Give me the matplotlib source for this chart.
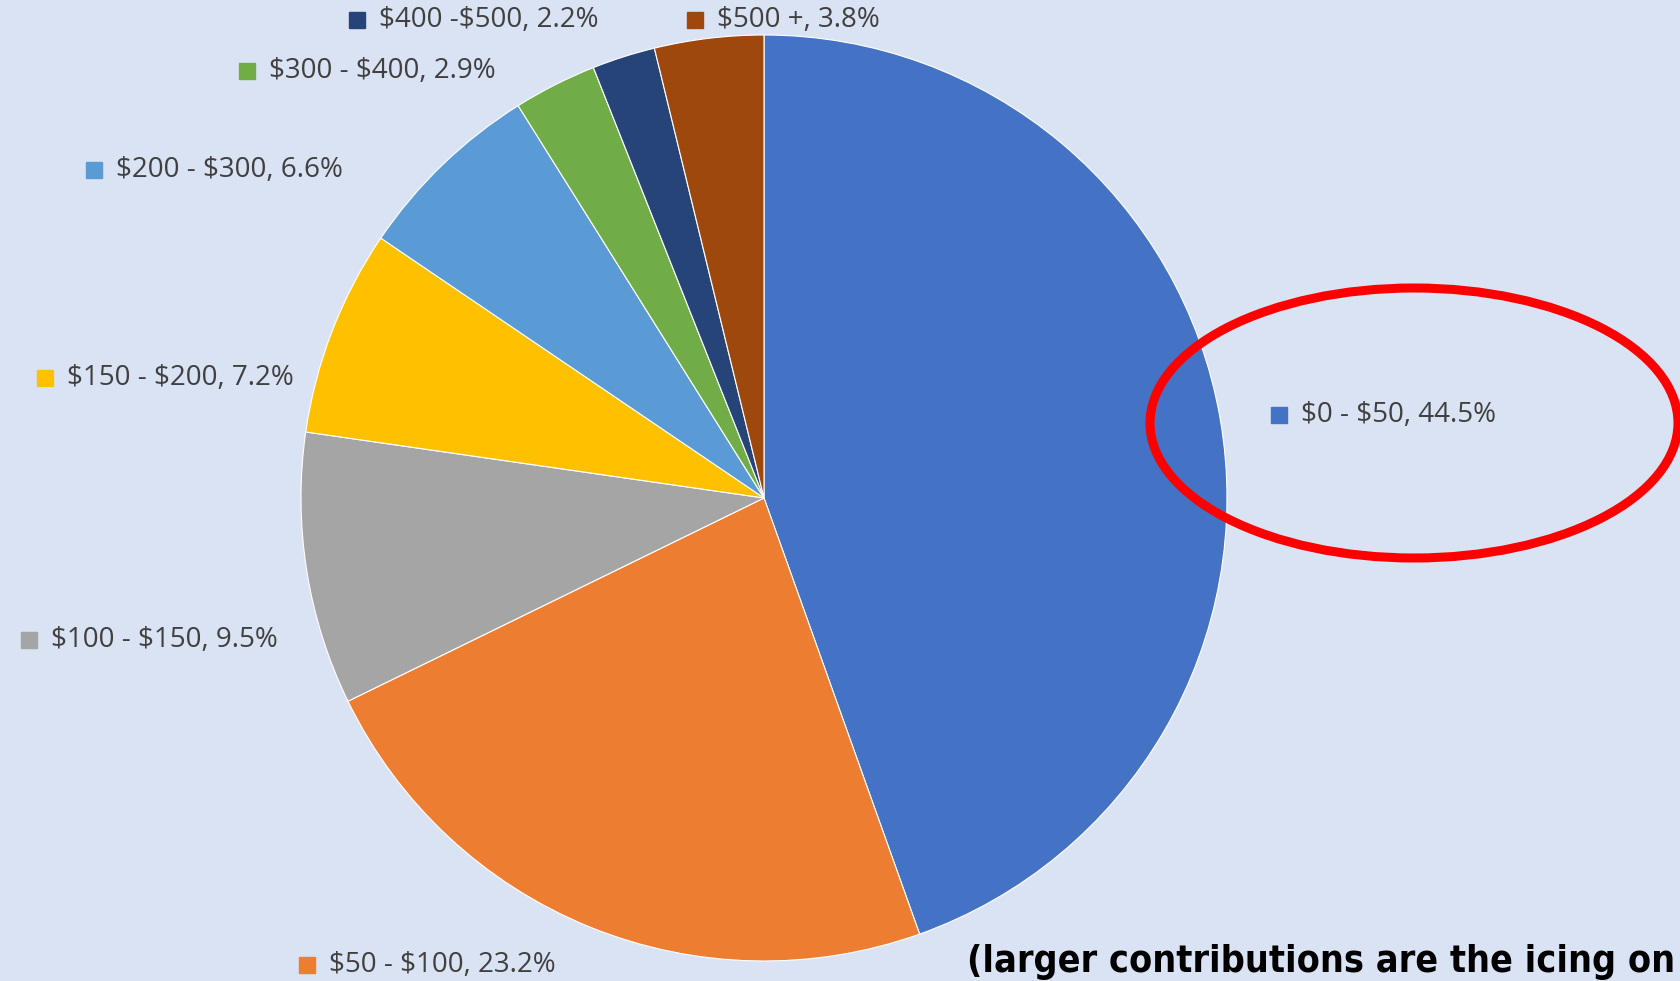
import matplotlib.pyplot as plt
from matplotlib.patches import Ellipse

plt.rcParams["text.parse_math"] = False

# ------------------------
# Data
# ------------------------
RANGES = ["$0 - $50", "$50 - $100", "$100 - $150", "$150 - $200",
          "$200 - $300", "$300 - $400", "$400 -$500", "$500 +"]
SHARES = [44.5, 23.2, 9.5, 7.2, 6.6, 2.9, 2.2, 3.8]
COLORS = ["#4472C4", "#ED7D31", "#A5A5A5", "#FFC000",
          "#5B9BD5", "#70AD47", "#264478", "#9E480E"]

# label anchor (marker centre) in pixel coords, y measured from top
LABEL_POS = [(1279, 415), (307, 965), (29, 640), (45, 378),
             (94, 170), (247, 71), (357, 20), (695, 20)]

W, H = 1680, 981
BG = "#DAE3F3"

fig = plt.figure(figsize=(W / 100, H / 100), dpi=100, facecolor=BG)
ax = fig.add_axes([0, 0, 1, 1])
ax.set_facecolor(BG)

ax.pie(SHARES, colors=COLORS, startangle=90, counterclock=False,
       center=(764, H - 498), radius=463,
       wedgeprops=dict(edgecolor="white", linewidth=0.8))

ax.set_xlim(0, W)
ax.set_ylim(0, H)
ax.set_aspect("equal")
ax.axis("off")

for name, pct, col, (x, y) in zip(RANGES, SHARES, COLORS, LABEL_POS):
    ax.plot(x, H - y, marker="s", markersize=11, color=col, linestyle="none")
    ax.text(x + 22, H - y, f"{name}, {pct}%", fontsize=20, color="#404040",
            family="Open Sans", va="center", ha="left")

# highlight circle around the biggest bucket
ax.add_patch(Ellipse((1414, H - 423), 528, 270, fill=False,
                     edgecolor="red", linewidth=6.5))

ax.text(967, H - 962, "(larger contributions are the icing on",
        fontsize=27, fontweight="bold", color="black",
        family="DejaVu Sans", fontstretch="condensed",
        va="center", ha="left")

fig.savefig("out.png", dpi=100, facecolor=BG)
